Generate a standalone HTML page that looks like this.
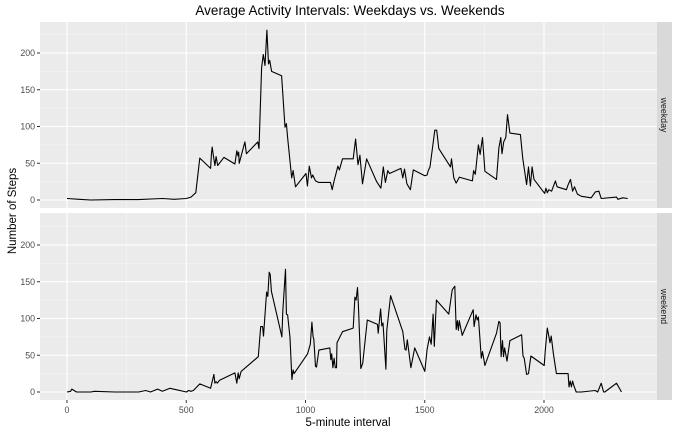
<!DOCTYPE html>
<html><head><meta charset="utf-8"><style>
body{margin:0;background:#fff;}
svg text{font-family:"Liberation Sans",sans-serif;}
</style></head><body>
<svg id="chart" width="680" height="432" viewBox="0 0 680 432" xmlns="http://www.w3.org/2000/svg">
<text x="350" y="15" text-anchor="middle" font-size="13.5" fill="#000">Average Activity Intervals: Weekdays vs. Weekends</text>
<text x="348" y="426" text-anchor="middle" font-size="11.5" fill="#000">5-minute interval</text>
<text transform="translate(16,211) rotate(-90)" text-anchor="middle" font-size="11.5" fill="#000">Number of Steps</text>
<g id="plots"></g>
</svg>
<script>
const xTicks = [0, 500, 1000, 1500, 2000];
const yTicks = [0, 50, 100, 150, 200];
const facetNames = ["weekday", "weekend"];
const weekdayIntervals = [0,50,100,200,300,400,450,500,520,540,557,602,606,609,614,620,625,632,658,704,712,717,720,722,746,752,800,805,816,823,830,838,845,850,858,900,914,920,925,942,948,958,1002,1008,1016,1025,1030,1042,1055,1105,1112,1120,1136,1142,1155,1200,1210,1220,1228,1239,1256,1298,1316,1326,1335,1345,1352,1400,1408,1415,1425,1440,1452,1500,1510,1515,1522,1542,1550,1559,1608,1612,1622,1632,1645,1655,1700,1705,1712,1725,1732,1742,1752,1801,1811,1819,1824,1831,1840,1847,1857,1901,1911,1927,1935,1943,1950,1958,2003,2008,2014,2020,2032,2048,2055,2094,2100,2111,2120,2128,2140,2157,2198,2215,2230,2240,2304,2310,2330,2351];
const weekdayValues = [2,1,0,0.5,0.5,2,1,2,4,10,57,43,64,72,60,47,59,47,58,49,67,60,65,50,79,63,79,70,180,198,183,231,185,190,175,169,99,104,85,30,40,18,36,19,46,30,34,26,24,24,14,26,46,41,56,56,83,48,61,22,56,25,16,45,24,40,36,43,30,42,22,14,41,33,34,40,45,95,95,70,45,56,30,23,31,30,26,40,35,75,62,85,39,28,71,85,63,79,85,116,91,89,56,21,45,19,45,28,9,16,10,14,12,26,18,14,20,28,12,18,8,5,3,11,12,2,4,1,3,2];
const weekendIntervals = [0,15,20,40,100,115,200,300,330,350,380,400,432,460,501,510,520,530,557,602,616,620,625,630,640,704,712,718,722,730,802,812,820,824,837,842,848,852,857,901,905,916,920,925,935,943,948,952,1009,1020,1027,1032,1035,1042,1046,1056,1102,1106,1110,1115,1120,1125,1130,1132,1155,1200,1207,1212,1218,1222,1232,1240,1259,1302,1305,1315,1320,1325,1337,1341,1357,1403,1408,1417,1422,1427,1442,1458,1500,1510,1520,1527,1535,1540,1549,1601,1615,1626,1632,1637,1641,1645,1657,1703,1707,1715,1720,1725,1737,1742,1752,1801,1811,1816,1820,1826,1830,1835,1845,1857,1906,1912,1917,1927,1935,1945,2001,2005,2014,2020,2025,2030,2040,2052,2101,2105,2110,2115,2120,2125,2135,2157,2215,2225,2240,2250,2255,2304,2325,2333,2340,2351];
const weekendValues = [0,1,4,0,0,1,0,0,2,0,4,1,5,3,0,2,1,2,11,5,24,12,14,12,16,26,12,26,18,28,48,89,89,76,136,130,163,160,137,75,110,167,106,105,74,17,30,25,52,65,95,75,72,35,34,57,60,44,52,33,46,33,33,67,82,87,129,125,142,118,32,39,98,92,80,113,90,94,31,84,131,87,82,58,57,71,33,60,28,58,75,65,106,62,125,106,139,144,85,97,84,97,77,112,89,105,98,102,46,55,36,80,96,94,48,70,48,60,42,70,78,49,46,24,25,49,36,55,87,76,67,76,51,25,25,7,15,7,15,9,0,0,2,0,12,0,0,12,0];

const svgNS = "http://www.w3.org/2000/svg";
const plots = document.getElementById("plots");
const PL = 40, PR = 657, SR = 672;
const panels = [{top:22,bottom:208,zero:200},{top:213,bottom:400,zero:392}];
const yScalePx = (200-53)/200;
function xPos(v){ return 67 + v*(544-67)/2000; }
function yPos(p, v){ return p.zero - v*yScalePx; }
function mk(tag, attrs){ const e=document.createElementNS(svgNS,tag); for(const k in attrs) e.setAttribute(k,attrs[k]); return e; }
const series = [[weekdayIntervals, weekdayValues],[weekendIntervals, weekendValues]];

panels.forEach((p, i) => {
  const g = mk("g", {});
  
  
  plots.appendChild(g);
  const bg = mk("rect", {x:PL, y:p.top, width:PR-PL, height:p.bottom-p.top, fill:"#EBEBEB"});
  
  
  g.appendChild(bg);
  // minor grid
  for (let k=0;k<yTicks.length;k++){
    const v = yTicks[k] + 25;
    const yy = yPos(p, v);
    if (yy > p.top) {
      const l = mk("line",{x1:PL,x2:PR,y1:yy,y2:yy,stroke:"#F7F7F7","stroke-width":0.6});
      
      
      g.appendChild(l);
    }
  }
  for (let k=0;k<xTicks.length;k++){
    const xx = xPos(xTicks[k] + 250);
    const l = mk("line",{x1:xx,x2:xx,y1:p.top,y2:p.bottom,stroke:"#F7F7F7","stroke-width":0.6});
    
    
    g.appendChild(l);
  }
  yTicks.forEach(t => {
    const yy = yPos(p, t);
    const l = mk("line",{x1:PL,x2:PR,y1:yy,y2:yy,stroke:"#fff","stroke-width":1.1});
    
    
    g.appendChild(l);
    const tk = mk("line",{x1:37,x2:PL,y1:yy,y2:yy,stroke:"#333","stroke-width":1});
    
    
    g.appendChild(tk);
    const tx = mk("text",{x:35,y:yy+3,"text-anchor":"end","font-size":"8.8",fill:"#4D4D4D"});
    tx.textContent = t;
    
    
    g.appendChild(tx);
  });
  xTicks.forEach(t => {
    const xx = xPos(t);
    const l = mk("line",{x1:xx,x2:xx,y1:p.top,y2:p.bottom,stroke:"#fff","stroke-width":1.1});
    
    
    g.appendChild(l);
  });
  const [xs, ys] = series[i];
  const d = xs.map((x,j)=>(j?"L":"M")+xPos(x).toFixed(1)+","+yPos(p, ys[j]).toFixed(1)).join("");
  const path = mk("path",{d:d,fill:"none",stroke:"#000","stroke-width":1.1,"stroke-linejoin":"round"});
  
  
  g.appendChild(path);
  const strip = mk("rect",{x:PR,y:p.top,width:SR-PR,height:p.bottom-p.top,fill:"#D9D9D9"});
  
  
  g.appendChild(strip);
  const cy = (p.top+p.bottom)/2;
  const st = mk("text",{transform:"translate("+(PR+4)+","+cy+") rotate(90)","text-anchor":"middle","font-size":"8.8",fill:"#1A1A1A"});
  st.textContent = facetNames[i];
  
  
  g.appendChild(st);
});
xTicks.forEach(t => {
  const xx = xPos(t);
  const tk = mk("line",{x1:xx,x2:xx,y1:400,y2:403,stroke:"#333","stroke-width":1});
  
  
  plots.appendChild(tk);
  const tx = mk("text",{x:xx,y:413,"text-anchor":"middle","font-size":"8.8",fill:"#4D4D4D"});
  tx.textContent = t;
  
  
  plots.appendChild(tx);
});
</script>
</body></html>
